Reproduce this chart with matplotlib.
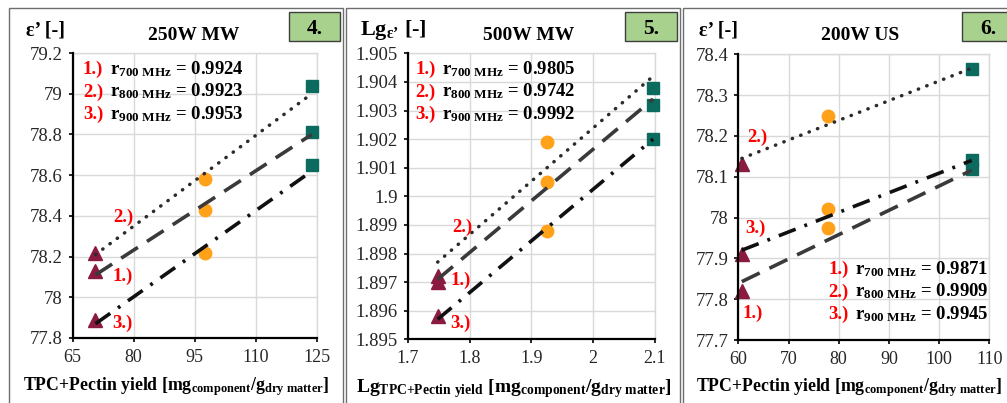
import matplotlib
matplotlib.use('Agg')
import matplotlib.pyplot as plt
from matplotlib.patches import Rectangle

plt.rcParams['font.family'] = ['Liberation Serif', 'DejaVu Serif']
plt.rcParams['mathtext.fontset'] = 'custom'
plt.rcParams['mathtext.rm'] = 'Liberation Serif:bold'
plt.rcParams['mathtext.bf'] = 'Liberation Serif:bold'
plt.rcParams['mathtext.it'] = 'Liberation Serif:bold'
plt.rcParams['mathtext.default'] = 'bf'

W, H = 1007, 403

# ---------------- data ----------------
# Panel 4: 250W MW
p4_x = [70.6, 97.6, 123.8]
p4_tri = [78.22, 78.13, 77.89]
p4_circ = [78.58, 78.43, 78.22]
p4_sq = [79.04, 78.81, 78.65]
p4_dotted = [78.21, 79.00]
p4_dashed = [78.11, 78.80]
p4_dashdot = [77.87, 78.62]
p4_xticks = [65, 80, 95, 110, 125]
p4_xticklabels = ['65', '80', '95', '110', '125']
p4_yticks = [77.8, 78.0, 78.2, 78.4, 78.6, 78.8, 79.0, 79.2]
p4_yticklabels = ['77.8', '78', '78.2', '78.4', '78.6', '78.8', '79', '79.2']
p4_r = ['0.9924', '0.9923', '0.9953']

# Panel 5: 500W MW (log)
p5_x = [1.7485, 1.926, 2.097]
p5_tri = [1.8972, 1.8970, 1.8958]
p5_circ = [1.9019, 1.9005, 1.8988]
p5_sq = [1.9038, 1.9032, 1.9020]
p5_dotted = [1.8977, 1.9042]
p5_dashed = [1.8971, 1.9034]
p5_dashdot = [1.8957, 1.9020]
p5_xticks = [1.7, 1.8, 1.9, 2.0, 2.1]
p5_xticklabels = ['1.7', '1.8', '1.9', '2', '2.1']
p5_yticks = [1.895, 1.896, 1.897, 1.898, 1.899, 1.900, 1.901, 1.902, 1.903, 1.904, 1.905]
p5_yticklabels = ['1.895', '1.896', '1.897', '1.898', '1.899', '1.9', '1.901',
                  '1.902', '1.903', '1.904', '1.905']
p5_r = ['0.9805', '0.9742', '0.9992']

# Panel 6: 200W US
p6_x = [60.7, 77.9, 106.5]
p6_tri = [78.13, 77.91, 77.82]
p6_circ = [78.25, 78.02, 77.975]
p6_sq = [78.365, 78.14, 78.12]
p6_dotted = [78.145, 78.366]
p6_dashed = [77.843, 78.116]
p6_dashdot = [77.92, 78.14]
p6_xticks = [60, 70, 80, 90, 100, 110]
p6_xticklabels = ['60', '70', '80', '90', '100', '110']
p6_yticks = [77.7, 77.8, 77.9, 78.0, 78.1, 78.2, 78.3, 78.4]
p6_yticklabels = ['77.7', '77.8', '77.9', '78', '78.1', '78.2', '78.3', '78.4']
p6_r = ['0.9871', '0.9909', '0.9945']

freq_labels = ['700 MHz', '800 MHz', '900 MHz']
num_labels = ['1.)', '2.)', '3.)']

# ---------------- style ----------------
TRI_C = '#8B1A40'
CIRC_C = '#FFA21A'
SQ_C = '#0B6B5E'
GRID_C = '#D9D9D9'
RED = '#FF0000'

fig = plt.figure(figsize=(W / 100, H / 100), dpi=100)
fig.patch.set_facecolor('white')


def ftext(px, py, s, **kw):
    return fig.text(px / W, 1 - py / H, s, **kw)


def frect(x0, y0, x1, y1, **kw):
    r = Rectangle((x0 / W, 1 - y1 / H), (x1 - x0) / W, (y1 - y0) / H,
                  transform=fig.transFigure, **kw)
    fig.add_artist(r)


# panel borders
for (x0, x1) in [(8.5, 342.5), (346, 679.5), (682.5, 1012)]:
    frect(x0, 8, x1, 420, fill=False, edgecolor='#6E6E6E', linewidth=1.0)


def make_axes(left, right, top, bottom):
    ax = fig.add_axes([left / W, 1 - bottom / H, (right - left) / W, (bottom - top) / H])
    ax.set_facecolor('white')
    for s in ['top', 'right']:
        ax.spines[s].set_color(GRID_C)
        ax.spines[s].set_linewidth(1.0)
    for s in ['left', 'bottom']:
        ax.spines[s].set_color('black')
        ax.spines[s].set_linewidth(1.6)
        ax.spines[s].set_zorder(4)
    ax.grid(True, color=GRID_C, linewidth=1.0, zorder=0)
    ax.set_axisbelow(True)
    ax.tick_params(direction='out', length=3, width=1.2, color='black',
                   labelsize=13.5, labelcolor='#262626', pad=4)
    ax.tick_params(axis='x', pad=5, labelsize=13)
    return ax


def draw_panel(ax, x, tri, circ, sq, dotted, dashed, dashdot,
               xticks, xtl, yticks, ytl):
    ax.plot([x[0]] * len(tri), tri, linestyle='none', marker='^', markersize=10.5,
            color=TRI_C, zorder=3, clip_on=False)
    ax.plot([x[1]] * len(circ), circ, linestyle='none', marker='o', markersize=9,
            color=CIRC_C, zorder=3, clip_on=False)
    ax.plot([x[2]] * len(sq), sq, linestyle='none', marker='s', markersize=9,
            color=SQ_C, zorder=3, clip_on=False)
    xe = [x[0], x[2]]
    ax.plot(xe, dotted, color='#2B2B2B', linewidth=2.5,
            linestyle=(0, (0.1, 2.5)), dash_capstyle='round', zorder=5, clip_on=False)
    ax.plot(xe, dashed, color='#3A3A3A', linewidth=2.6,
            linestyle=(0, (5.5, 3.0)), zorder=5, clip_on=False)
    ax.plot(xe, dashdot, color='#111111', linewidth=2.6,
            linestyle=(0, (5.0, 2.6, 0.8, 2.6)), zorder=5, clip_on=False)
    ax.set_xlim(xticks[0], xticks[-1])
    ax.set_ylim(yticks[0], yticks[-1])
    ax.set_xticks(xticks)
    ax.set_xticklabels(xtl)
    ax.set_yticks(yticks)
    ax.set_yticklabels(ytl)


ax4 = make_axes(72.7, 316.7, 53, 338)
draw_panel(ax4, p4_x, p4_tri, p4_circ, p4_sq, p4_dotted, p4_dashed, p4_dashdot,
           p4_xticks, p4_xticklabels, p4_yticks, p4_yticklabels)
ax5 = make_axes(407.7, 655, 53.3, 339.3)
draw_panel(ax5, p5_x, p5_tri, p5_circ, p5_sq, p5_dotted, p5_dashed, p5_dashdot,
           p5_xticks, p5_xticklabels, p5_yticks, p5_yticklabels)
ax6 = make_axes(738.3, 989.3, 54.3, 340)
draw_panel(ax6, p6_x, p6_tri, p6_circ, p6_sq, p6_dotted, p6_dashed, p6_dashdot,
           p6_xticks, p6_xticklabels, p6_yticks, p6_yticklabels)

# r blocks
RFS = 13.5


def r_block(xr, xb, baselines, rvals):
    for i in range(3):
        ftext(xr, baselines[i], num_labels[i], color=RED, fontsize=RFS,
              fontweight='bold', va='baseline', ha='left')
        ftext(xb, baselines[i], r'r$_{%s}$ = %s' % (freq_labels[i].replace(' ', r'\ '), rvals[i]),
              color='black', fontsize=RFS, fontweight='bold', va='baseline', ha='left')


r_block(83, 110, [74, 96.5, 119], p4_r)
r_block(415.5, 442, [74, 96.5, 119], p5_r)
r_block(828, 855, [274, 296.5, 319], p6_r)

# series number labels near points
LFS = 13.5
for (px, py, s) in [(113, 221.5, '2.)'), (113, 281, '1.)'), (112, 328, '3.)'),
                    (452, 231.5, '2.)'), (450, 285, '1.)'), (450, 328, '3.)'),
                    (747, 141.5, '2.)'), (745, 233, '3.)'), (743, 318, '1.)')]:
    ftext(px, py, s, color=RED, fontsize=LFS, fontweight='bold', va='baseline', ha='left')

# titles and y labels
TFS = 14
ftext(194, 40.5, '250W MW', fontsize=TFS, fontweight='bold', ha='center', va='baseline')
ftext(529, 40, '500W MW', fontsize=TFS, fontweight='bold', ha='center', va='baseline')
ftext(860, 39.5, '200W US', fontsize=TFS, fontweight='bold', ha='center', va='baseline')
ftext(26, 35, 'ε’ [-]', fontsize=14.5, fontweight='bold', ha='left', va='baseline')
ftext(699, 35, 'ε’ [-]', fontsize=14.5, fontweight='bold', ha='left', va='baseline')
ftext(360, 35, r'Lg$_{ε’}$ [-]', fontsize=16, fontweight='bold', ha='left', va='baseline')

# green number boxes
for (x0, x1, s) in [(289, 340, '4.'), (625, 676.5, '5.'), (962, 1020, '6.')]:
    frect(x0, 12.3, x1, 40.5, facecolor='#A9D18E', edgecolor='#3F3F3F', linewidth=1.0)
    ftext((x0 + min(x1, 1008)) / 2 + (3 if x1 > 1008 else 0), 34.5, s, fontsize=15.5,
          fontweight='bold', ha='center', va='baseline')

# x labels
XFS = 12.8
ftext(176.5, 390, r'TPC+Pectin yield [mg$_{component}$/g$_{dry\ matter}$]',
      fontsize=XFS, fontweight='bold', ha='center', va='baseline')
ftext(849, 391, r'TPC+Pectin yield [mg$_{component}$/g$_{dry\ matter}$]',
      fontsize=XFS, fontweight='bold', ha='center', va='baseline')
ftext(514, 392, r'Lg$_{TPC{+}Pectin\ yield}$ [mg$_{component}$/g$_{dry\ matter}$]',
      fontsize=14, fontweight='bold', ha='center', va='baseline')

fig.savefig('out.png', dpi=100, facecolor='white')
